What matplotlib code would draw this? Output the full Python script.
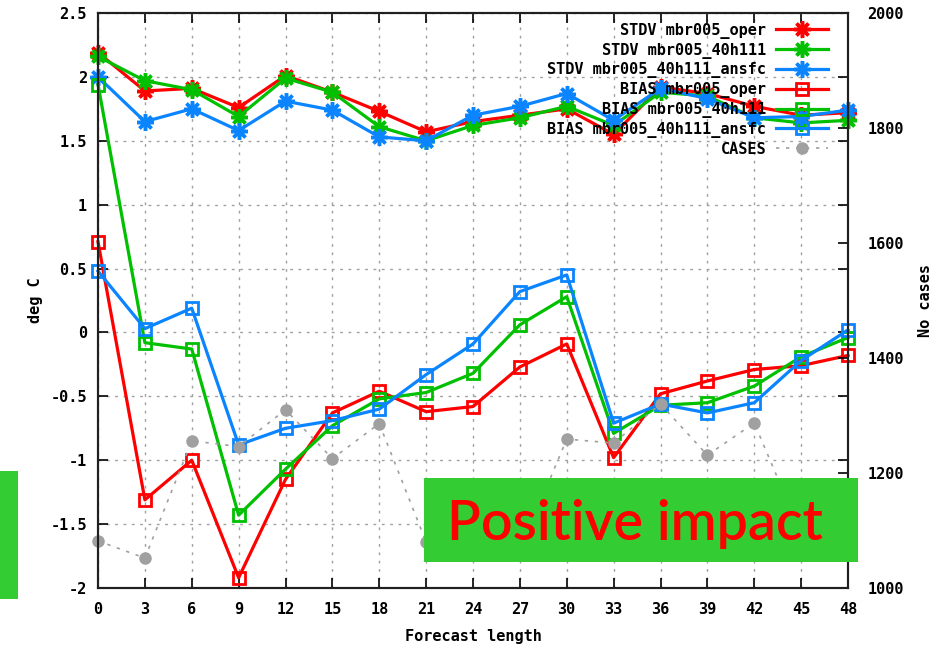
import matplotlib
matplotlib.use('Agg')
import matplotlib.pyplot as plt
import matplotlib.patches as patches
from matplotlib.ticker import FuncFormatter

# forecast lengths (hours)
LEADS = [0, 3, 6, 9, 12, 15, 18, 21, 24, 27, 30, 33, 36, 39, 42, 45, 48]

# deg C
STDV_OPER = [2.19, 1.89, 1.91, 1.76, 2.01, 1.88, 1.73, 1.57, 1.65, 1.70, 1.75, 1.55, 1.92, 1.87, 1.77, 1.70, 1.72]
STDV_40H111 = [2.16, 1.97, 1.90, 1.69, 1.99, 1.88, 1.61, 1.50, 1.62, 1.68, 1.77, 1.62, 1.88, 1.85, 1.68, 1.64, 1.66]
STDV_ANSFC = [2.00, 1.65, 1.75, 1.58, 1.81, 1.74, 1.53, 1.50, 1.70, 1.77, 1.87, 1.66, 1.91, 1.83, 1.68, 1.69, 1.74]

BIAS_OPER = [0.71, -1.31, -1.00, -1.92, -1.15, -0.63, -0.46, -0.62, -0.58, -0.27, -0.09, -0.98, -0.48, -0.38, -0.29, -0.26, -0.18]
BIAS_40H111 = [1.94, -0.08, -0.13, -1.43, -1.07, -0.73, -0.52, -0.47, -0.32, 0.06, 0.28, -0.79, -0.57, -0.55, -0.42, -0.19, -0.04]
BIAS_ANSFC = [0.48, 0.03, 0.19, -0.88, -0.75, -0.69, -0.60, -0.33, -0.09, 0.32, 0.45, -0.71, -0.56, -0.63, -0.55, -0.22, 0.02]

# number of cases (right axis)
CASES = [1082, 1052, 1256, 1246, 1310, 1225, 1286, 1080, 1075, 1065, 1259, 1252, 1320, 1231, 1287, 1095, 1100]

LABELS = ['STDV mbr005_oper', 'STDV mbr005_40h111', 'STDV mbr005_40h111_ansfc',
          'BIAS mbr005_oper', 'BIAS mbr005_40h111', 'BIAS mbr005_40h111_ansfc', 'CASES']

RED = '#ff0000'
GREEN = '#00c000'
BLUE = '#0a84ff'
GREY = '#a0a0a0'
BOX_GREEN = '#33cc33'

FONT = {'family': 'DejaVu Sans Mono', 'weight': 'bold', 'size': 11}
STAR = (8, 2, 0)


def fmt(v, pos):
    return '%g' % v


def main():
    fig = plt.figure(figsize=(9.47, 6.48), dpi=100)
    ax = fig.add_axes([98 / 947, 60 / 648, 750 / 947, 575 / 648])
    ax2 = ax.twinx()

    series = [
        (STDV_OPER, RED, STAR), (STDV_40H111, GREEN, STAR), (STDV_ANSFC, BLUE, STAR),
        (BIAS_OPER, RED, 's'), (BIAS_40H111, GREEN, 's'), (BIAS_ANSFC, BLUE, 's'),
    ]
    handles = []
    for vals, col, mk in series:
        if mk == 's':
            h, = ax.plot(LEADS, vals, color=col, lw=2.3, marker='s', ms=8.5,
                         mfc='none', mec=col, mew=2, clip_on=False)
        else:
            h, = ax.plot(LEADS, vals, color=col, lw=2.3, marker=mk, ms=12,
                         mec=col, mew=2.5, clip_on=False)
        handles.append(h)

    hc, = ax2.plot(LEADS, CASES, color=GREY, lw=1.2, ls=(0, (2, 4)), marker='o', ms=8,
                   mfc=GREY, mec=GREY, clip_on=False)
    handles.append(hc)

    ax.set_xlim(0, 48)
    ax.set_ylim(-2, 2.5)
    ax2.set_ylim(1000, 2000)
    ax.set_xticks(LEADS)
    ax.set_yticks([-2, -1.5, -1, -0.5, 0, 0.5, 1, 1.5, 2, 2.5])
    ax2.set_yticks([1000, 1200, 1400, 1600, 1800, 2000])
    ax.yaxis.set_major_formatter(FuncFormatter(fmt))
    ax.xaxis.set_major_formatter(FuncFormatter(fmt))

    ax.grid(True, color=GREY, ls=(0, (2, 4)), lw=1)
    ax.tick_params(axis='both', direction='in', length=7, width=1.2,
                   top=True, right=True, labelright=False)
    ax.tick_params(axis='y', pad=8)
    ax.tick_params(axis='x', pad=10)
    ax2.tick_params(axis='y', direction='in', length=7, width=1.2, pad=14)
    for a in (ax, ax2):
        for lab in a.get_xticklabels() + a.get_yticklabels():
            lab.set_fontproperties(FONT)
        for sp in a.spines.values():
            sp.set_linewidth(1.5)
            sp.set_color('#202020')

    ax.set_xlabel('Forecast length', fontdict=FONT, labelpad=9)
    ax.set_ylabel('deg C', fontdict=FONT, labelpad=5)
    ax2.set_ylabel('No cases', fontdict=FONT, labelpad=10)

    ax2.legend(handles, LABELS, loc='upper right', bbox_to_anchor=(0.985, 0.999),
               frameon=False, markerfirst=False, numpoints=1, handlelength=3.4,
               labelspacing=0.25, handletextpad=0.6, borderaxespad=0.2,
               prop=FONT)

    # green overlay boxes
    fig.add_artist(patches.Rectangle((424 / 947, 86 / 648), 434 / 947, 84 / 648,
                                     transform=fig.transFigure, facecolor=BOX_GREEN,
                                     edgecolor='none', zorder=10))
    fig.add_artist(patches.Rectangle((0, 49 / 648), 18 / 947, 128 / 648,
                                     transform=fig.transFigure, facecolor=BOX_GREEN,
                                     edgecolor='none', zorder=10))
    fig.text(634.5 / 947, 108 / 648, 'Positive impact', color=RED, fontsize=40,
             family='Lato', weight='semibold', ha='center', va='baseline', zorder=11)

    fig.savefig('out.png', dpi=100)


if __name__ == "__main__":
    main()
